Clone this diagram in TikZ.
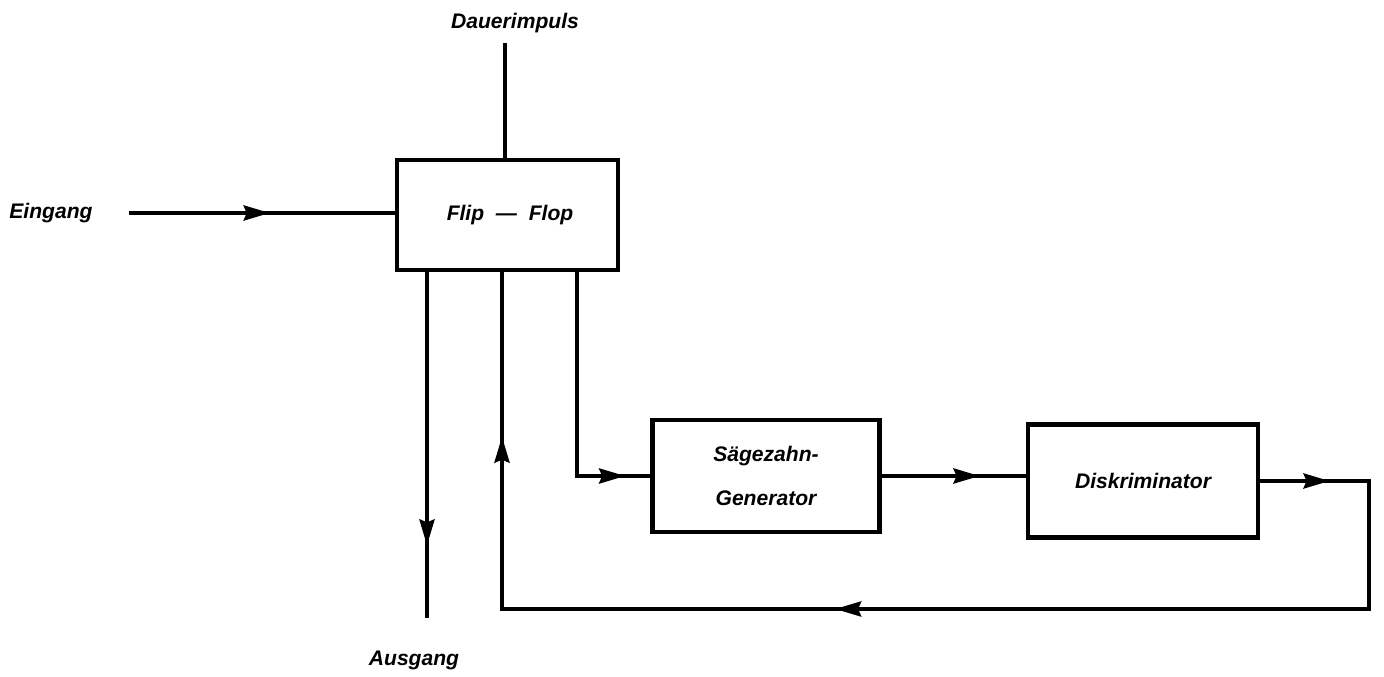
\documentclass[tikz,border=0pt]{standalone}
\usepackage{fontspec}
\setmainfont{Liberation Sans}
\usepackage{tikz}
\usetikzlibrary{arrows.meta,positioning,decorations.markings}
\tikzset{
  txt/.style={font=\fontsize{12}{14}\selectfont\bfseries\itshape,inner sep=0pt},
  blk/.style={draw,line width=2.8pt,txt,align=center},
  wire/.style={line width=2.2pt},
  tip/.style={postaction={decorate},decoration={markings,
    mark=at position #1 with {\arrow{Stealth[length=5.2mm,width=3mm,inset=0.6mm]}}}},
  tips/.style n args={3}{postaction={decorate},decoration={markings,
    mark=at position #1 with {\arrow{Stealth[length=5.2mm,width=3mm,inset=0.6mm]}},
    mark=at position #2 with {\arrow{Stealth[length=5.2mm,width=3mm,inset=0.6mm]}},
    mark=at position #3 with {\arrow{Stealth[length=5.2mm,width=3mm,inset=0.6mm]}}}},
}

\begin{document}
\begin{tikzpicture}[x=0.2mm,y=-0.2mm]
\useasboundingbox (0,0) rectangle (1384,677);
% blocks
\node[blk,minimum width=44.2mm,minimum height=22mm] (ff) at (507.5,215) {\hspace*{1mm}Flip \ --- \ Flop};
\node[blk,minimum width=45.4mm,minimum height=22.4mm] (saw) at (766,476) {Sägezahn-\\[3.7mm]Generator};
\node[blk,minimum width=46mm,minimum height=22.6mm] (disk) at (1143,481) {Diskriminator};
% labels
\node[txt] (ein) at (51,213) {Eingang};
\node[txt] (dauer) at (515,23) {Dauerimpuls};
\node[txt] (aus) at (414,660) {Ausgang};
% free ends and corners
\coordinate (in) at (129,213);
\coordinate (dtop) at (505,43);
\coordinate (out) at (427,618);
\coordinate (kn) at (577,0);
\coordinate (rc) at (1369,609);
\coordinate (lc) at (502,0);
% connectors
\draw[wire,tip=0.53] (in) -- (in -| ff.west);
\draw[wire] (dtop) -- (dtop |- ff.north);
\draw[wire,tip=0.79] (out |- ff.south) -- (out);
\draw[wire,tip=0.91] (kn |- ff.south) |- (saw.west);
\draw[wire,tip=0.68] (saw.east) -- (saw.east -| disk.west);
\draw[wire,tips={0.048}{0.535}{0.886}] (disk.east) -| (rc) -| (lc |- ff.south);
\end{tikzpicture}
\end{document}
